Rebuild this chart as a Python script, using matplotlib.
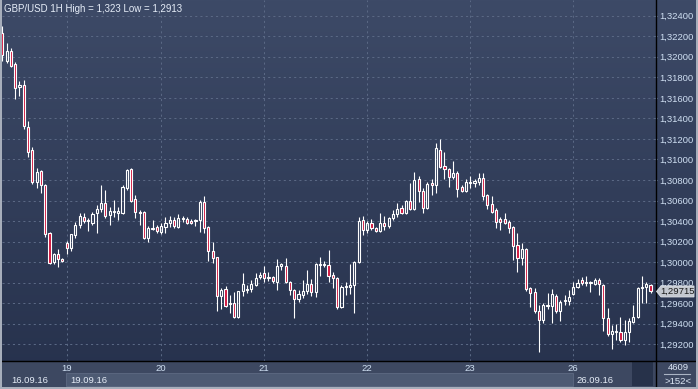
import numpy as np
import matplotlib
matplotlib.use('Agg')
import matplotlib.pyplot as plt
import matplotlib.transforms as mtransforms
from matplotlib.patches import Rectangle, Polygon
from matplotlib.lines import Line2D
from matplotlib.ticker import FuncFormatter

plt.rcParams['font.family'] = ['Liberation Sans', 'DejaVu Sans']

title = 'GBP/USD 1H High = 1,323 Low = 1,2913'

opens = [1.3223, 1.3196, 1.3206, 1.3193, 1.3171, 1.3173, 1.3132, 1.3109, 1.3078, 1.3089,
         1.3075, 1.3028, 1.3000, 1.3008, 1.3003, 1.3019, 1.3014, 1.3026, 1.3036, 1.3044,
         1.3040, 1.3038, 1.3048, 1.3052, 1.3058, 1.3046, 1.3049, 1.3048, 1.3048, 1.3072,
         1.3091, 1.3062, 1.3049, 1.3049, 1.3024, 1.3032, 1.3034, 1.3029, 1.3034, 1.3038,
         1.3041, 1.3034, 1.3042, 1.3042, 1.3040, 1.3040, 1.3041, 1.3059, 1.3034, 1.3011,
         1.3005, 1.2967, 1.2974, 1.2960, 1.2960, 1.2947, 1.2972, 1.2973, 1.2974, 1.2978,
         1.2986, 1.2989, 1.2986, 1.2986, 1.2981, 1.2996, 1.2996, 1.2981, 1.2973, 1.2964,
         1.2968, 1.2972, 1.2979, 1.2971, 1.2998, 1.2997, 1.2997, 1.2988, 1.2985, 1.2956,
         1.2976, 1.2976, 1.2978, 1.3000, 1.3041, 1.3031, 1.3038, 1.3033, 1.3030, 1.3038,
         1.3035, 1.3043, 1.3047, 1.3053, 1.3048, 1.3060, 1.3052, 1.3081, 1.3069, 1.3053,
         1.3077, 1.3075, 1.3109, 1.3094, 1.3091, 1.3083, 1.3087, 1.3073, 1.3069, 1.3077,
         1.3077, 1.3078, 1.3082, 1.3065, 1.3057, 1.3051, 1.3042, 1.3042, 1.3039, 1.3034,
         1.3017, 1.3004, 1.3013, 1.2975, 1.2971, 1.2952, 1.2944, 1.2957, 1.2957, 1.2967,
         1.2952, 1.2962, 1.2962, 1.2969, 1.2976, 1.2983, 1.2980, 1.2980, 1.2979, 1.2983,
         1.2978, 1.2946, 1.2930, 1.2932, 1.2932, 1.2924, 1.2932, 1.2942, 1.2947, 1.2975,
         1.2976, 1.2978]
highs = [1.3230, 1.3213, 1.3209, 1.3195, 1.3176, 1.3177, 1.3137, 1.3112, 1.3092, 1.3090,
         1.3076, 1.3029, 1.3009, 1.3013, 1.3004, 1.3021, 1.3027, 1.3039, 1.3048, 1.3048,
         1.3043, 1.3049, 1.3056, 1.3075, 1.3070, 1.3054, 1.3061, 1.3054, 1.3075, 1.3091,
         1.3092, 1.3065, 1.3051, 1.3050, 1.3035, 1.3041, 1.3036, 1.3038, 1.3044, 1.3045,
         1.3044, 1.3047, 1.3045, 1.3044, 1.3042, 1.3042, 1.3061, 1.3064, 1.3035, 1.3020,
         1.3005, 1.2975, 1.2977, 1.2968, 1.2971, 1.2972, 1.2989, 1.2978, 1.2983, 1.2989,
         1.2990, 1.2996, 1.2990, 1.2987, 1.3003, 1.2999, 1.3004, 1.2982, 1.2974, 1.2973,
         1.2983, 1.2992, 1.2984, 1.2999, 1.3005, 1.3001, 1.3012, 1.2990, 1.2986, 1.2978,
         1.2981, 1.2998, 1.3001, 1.3044, 1.3045, 1.3040, 1.3042, 1.3034, 1.3048, 1.3045,
         1.3044, 1.3051, 1.3058, 1.3056, 1.3061, 1.3077, 1.3088, 1.3084, 1.3072, 1.3078,
         1.3081, 1.3116, 1.3120, 1.3107, 1.3092, 1.3099, 1.3089, 1.3075, 1.3081, 1.3084,
         1.3081, 1.3087, 1.3087, 1.3066, 1.3064, 1.3053, 1.3044, 1.3048, 1.3041, 1.3035,
         1.3028, 1.3019, 1.3014, 1.2976, 1.2975, 1.2958, 1.2960, 1.2970, 1.2974, 1.2969,
         1.2963, 1.2968, 1.2973, 1.2981, 1.2984, 1.2986, 1.2987, 1.2982, 1.2985, 1.2985,
         1.2979, 1.2955, 1.2939, 1.2940, 1.2947, 1.2944, 1.2946, 1.2958, 1.2976, 1.2987,
         1.2981, 1.2979]
lows = [1.3196, 1.3194, 1.3190, 1.3159, 1.3162, 1.3130, 1.3102, 1.3076, 1.3072, 1.3067,
        1.3025, 1.2998, 1.2998, 1.2995, 1.3000, 1.3008, 1.3011, 1.3024, 1.3033, 1.3038,
        1.3030, 1.3036, 1.3028, 1.3049, 1.3043, 1.3036, 1.3044, 1.3041, 1.3047, 1.3070,
        1.3059, 1.3043, 1.3036, 1.3023, 1.3020, 1.3031, 1.3028, 1.3027, 1.3028, 1.3034,
        1.3033, 1.3033, 1.3039, 1.3037, 1.3037, 1.3035, 1.3029, 1.3028, 1.3001, 1.2999,
        1.2952, 1.2954, 1.2956, 1.2951, 1.2946, 1.2946, 1.2967, 1.2970, 1.2971, 1.2977,
        1.2984, 1.2981, 1.2982, 1.2980, 1.2973, 1.2992, 1.2980, 1.2968, 1.2946, 1.2961,
        1.2965, 1.2969, 1.2967, 1.2966, 1.2987, 1.2995, 1.2981, 1.2975, 1.2954, 1.2955,
        1.2968, 1.2969, 1.2951, 1.2999, 1.3026, 1.3028, 1.3031, 1.3029, 1.3029, 1.3031,
        1.3033, 1.3041, 1.3044, 1.3047, 1.3047, 1.3051, 1.3051, 1.3059, 1.3048, 1.3052,
        1.3065, 1.3067, 1.3092, 1.3081, 1.3073, 1.3081, 1.3063, 1.3068, 1.3068, 1.3072,
        1.3073, 1.3075, 1.3061, 1.3052, 1.3048, 1.3033, 1.3031, 1.3037, 1.3028, 1.3002,
        1.2990, 1.2997, 1.2972, 1.2956, 1.2951, 1.2913, 1.2941, 1.2954, 1.2941, 1.2951,
        1.2943, 1.2958, 1.2958, 1.2968, 1.2975, 1.2978, 1.2977, 1.2971, 1.2978, 1.2968,
        1.2933, 1.2928, 1.2915, 1.2924, 1.2922, 1.2919, 1.2922, 1.2941, 1.2946, 1.2960,
        1.2960, 1.2970]
closes = [1.3202, 1.3206, 1.3191, 1.3170, 1.3173, 1.3133, 1.3107, 1.3078, 1.3088, 1.3075,
          1.3027, 1.2999, 1.3008, 1.3003, 1.3001, 1.3014, 1.3027, 1.3036, 1.3045, 1.3040,
          1.3041, 1.3047, 1.3052, 1.3058, 1.3045, 1.3050, 1.3050, 1.3050, 1.3073, 1.3090,
          1.3060, 1.3049, 1.3048, 1.3024, 1.3033, 1.3033, 1.3030, 1.3035, 1.3038, 1.3041,
          1.3035, 1.3043, 1.3043, 1.3038, 1.3038, 1.3041, 1.3059, 1.3033, 1.3011, 1.3004,
          1.2967, 1.2973, 1.2957, 1.2959, 1.2947, 1.2972, 1.2979, 1.2974, 1.2979, 1.2985,
          1.2988, 1.2985, 1.2985, 1.2982, 1.2996, 1.2998, 1.2981, 1.2973, 1.2964, 1.2969,
          1.2972, 1.2979, 1.2971, 1.2998, 1.2997, 1.2998, 1.2987, 1.2985, 1.2956, 1.2976,
          1.2977, 1.2978, 1.3000, 1.3040, 1.3031, 1.3038, 1.3033, 1.3030, 1.3038, 1.3035,
          1.3043, 1.3047, 1.3052, 1.3048, 1.3060, 1.3052, 1.3080, 1.3069, 1.3053, 1.3076,
          1.3075, 1.3111, 1.3093, 1.3091, 1.3083, 1.3087, 1.3071, 1.3069, 1.3078, 1.3078,
          1.3079, 1.3082, 1.3064, 1.3056, 1.3049, 1.3039, 1.3039, 1.3038, 1.3033, 1.3016,
          1.3004, 1.3013, 1.2974, 1.2970, 1.2952, 1.2944, 1.2958, 1.2958, 1.2969, 1.2952,
          1.2961, 1.2963, 1.2966, 1.2976, 1.2980, 1.2980, 1.2981, 1.2981, 1.2983, 1.2979,
          1.2946, 1.2930, 1.2933, 1.2933, 1.2924, 1.2932, 1.2943, 1.2947, 1.2975, 1.2976,
          1.2979, 1.29715]

day_pos = [15, 37, 61, 85, 109, 133]
day_labels = ['19', '20', '21', '22', '23', '26']
date_pos = [0, 15, 133]
date_labels = ['16.09.16', '19.09.16', '26.09.16']
price_ticks = np.arange(1.292, 1.3241, 0.002)
volume_text = '4609'
bars_text = '>152<'

W, H = 698, 389
fig = plt.figure(figsize=(W / 100, H / 100), dpi=100)
pix = mtransforms.Affine2D().scale(1 / W, -1 / H).translate(0, 1) + fig.transFigure

# background gradient
bg = fig.add_axes([0, 0, 1, 1], zorder=-5)
bg.set_axis_off()
top_c = np.array([61, 74, 103]) / 255
bot_c = np.array([38, 49, 76]) / 255
t = np.linspace(0, 1, 256)[:, None, None]
bg.imshow(top_c * (1 - t) + bot_c * t, aspect='auto', extent=[0, 1, 0, 1])
bg.set_xlim(0, 1)
bg.set_ylim(0, 1)

ax = fig.add_axes([2 / W, 1 - 361 / H, 653 / W, 361 / H], zorder=2)
ax.patch.set_alpha(0)
for s in ax.spines.values():
    s.set_visible(False)

idx = np.arange(len(opens))
o = np.array(opens)
c = np.array(closes)
hi = np.array(highs)
lo = np.array(lows)
top = np.maximum(o, c)
bot = np.minimum(o, c)

ax.vlines(idx, top, hi, color='white', lw=0.8, zorder=3)
ax.vlines(idx, lo, bot, color='white', lw=0.8, zorder=3)
heights = np.maximum(top - bot, 0.00004)
fills = ['#d0143c' if cc < oo else 'none' for oo, cc in zip(o, c)]
ax.bar(idx, heights, bottom=bot, width=0.5, color=fills, edgecolor='white',
       linewidth=0.8, zorder=4)

ax.set_xlim(-0.07, 152.04)
ax.set_ylim(1.290379, 1.32553)

ax.set_yticks(price_ticks)
ax.yaxis.tick_right()
ax.yaxis.set_major_formatter(FuncFormatter(lambda v, p: f'{v:.5f}'.replace('.', ',')))
ax.tick_params(axis='y', length=1.5, pad=1.3, color='#8fa8c8', labelcolor='#cfdff2',
               labelsize=6.8)
ax.set_xticks(day_pos, day_labels)
ax.tick_params(axis='x', length=0, pad=2.3, labelcolor='#cfdff2', labelsize=6.8)
ax.grid(True, color='#5a6884', linestyle=(0, (2, 3)), linewidth=0.75)
ax.set_axisbelow(True)

fig.text(4 / W, 1 - 8.5 / H, title, color='#e6edf8', fontsize=7, va='center', ha='left')

# bottom time panel (behind the axes so the day labels stay visible)
fig.patches.append(Rectangle((0, 361), W, 28, transform=pix, facecolor='#3d4861',
                             edgecolor='none', zorder=-4))
bx = mtransforms.blended_transform_factory(ax.transData, pix)
fig.patches.append(Rectangle((date_pos[1] - 0.07, 373.5), date_pos[2] - date_pos[1], 13,
                             transform=bx, facecolor='#4d5a73', edgecolor='#5d6a82',
                             lw=0.6, zorder=-3))
fig.patches.append(Rectangle((632, 361), 21, 25.5, transform=pix, facecolor='#27324a',
                             edgecolor='none', zorder=-3))
date_offsets = [8.5, 4.0, 3.0]
for pos, lab, off in zip(date_pos, date_labels, date_offsets):
    tr = bx + mtransforms.ScaledTranslation(off / 100, 0, fig.dpi_scale_trans)
    fig.text(pos, 380.3, lab, transform=tr, fontsize=6.8, color='#e6edf8',
             va='center', ha='left')

# right corner panel
fig.text(678 / W, 1 - 367 / H, volume_text, color='#dce6f4', fontsize=6.8, ha='center', va='center')
fig.lines.append(Line2D([664, 690], [374, 374], transform=pix, color='#aab4c4', lw=0.8))
fig.text(678 / W, 1 - 381 / H, bars_text, color='#dce6f4', fontsize=6.8, ha='center', va='center')

# frame lines
fig.lines.append(Line2D([0, W], [361, 361], transform=pix, color='black', lw=1.0, zorder=5))
fig.lines.append(Line2D([655.5, 655.5], [0, H], transform=pix, color='black', lw=1.0, zorder=5))
fig.patches.append(Rectangle((0, 0), 1.8, H, transform=pix, facecolor='#a7aebb', edgecolor='none', zorder=6))
fig.patches.append(Rectangle((W - 1.8, 0), 1.8, H, transform=pix, facecolor='#a7aebb', edgecolor='none', zorder=6))
fig.patches.append(Rectangle((0, H - 2), W, 2, transform=pix, facecolor='#a7aebb', edgecolor='none', zorder=6))

# last price marker
fig.canvas.draw()
last_y = H - ax.transData.transform((0, closes[-1]))[1]
fig.patches.append(Polygon([(656.5, last_y), (661, last_y - 5.5), (694, last_y - 5.5),
                            (694, last_y + 5.5), (661, last_y + 5.5)], closed=True,
                           transform=pix, facecolor='#c4c8d0', edgecolor='#e0e3e8', lw=0.6, zorder=7))
fig.text(677.5 / W, 1 - last_y / H, f'{closes[-1]:.5f}'.replace('.', ','), color='#1a1a1a',
         fontsize=6.8, ha='center', va='center', zorder=8)

fig.savefig('out.png', dpi=100)
